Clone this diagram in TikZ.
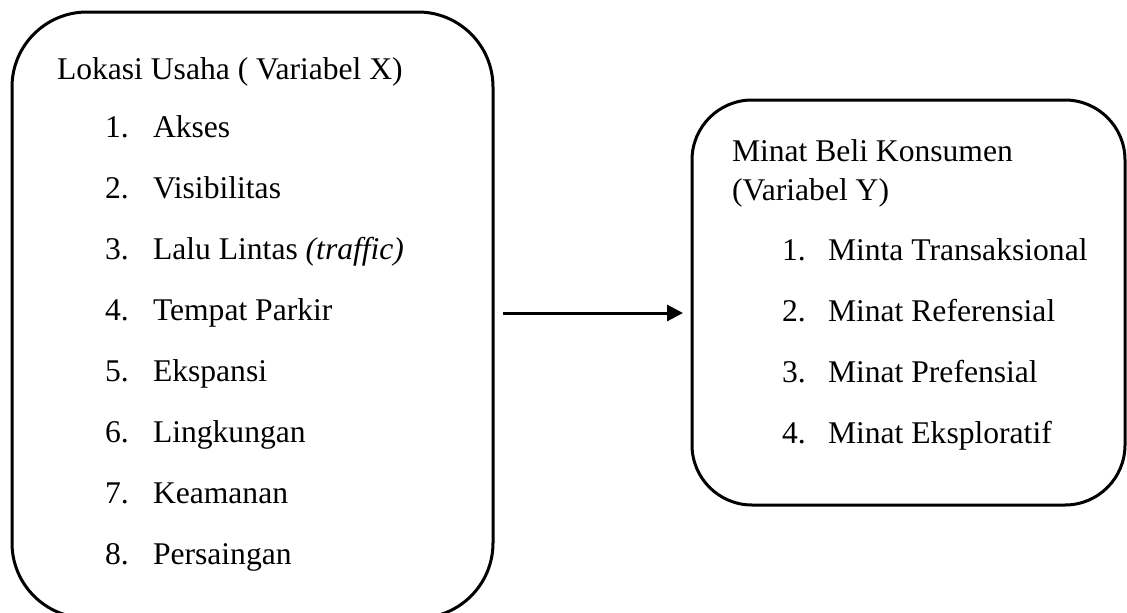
\documentclass[tikz,border=0pt]{standalone}
\usepackage{fontspec}
\setmainfont{Liberation Serif}
\usetikzlibrary{arrows.meta}
\begin{document}
\begin{tikzpicture}[x=1pt,y=-1pt,
  box/.style={draw=black,line width=3pt,outer sep=0pt,inner sep=0pt},
  txt/.style={anchor=base west,inner sep=0pt,outer sep=0pt,font=\fontsize{31.6}{40}\selectfont},
  arrowline/.style={line width=3pt,-{Triangle[length=16pt,width=16pt]}}]
\useasboundingbox (0,0) rectangle (1127,613);
\clip (0,0) rectangle (1127,613);
\node[box,rounded corners=75pt,minimum width=481pt,minimum height=606pt] (boxX) at (252.5,315) {};
\node[box,rounded corners=60pt,minimum width=433pt,minimum height=405pt] (boxY) at (908.5,302.5) {};
% left box text
\node[txt] (tX) at (57,79) {Lokasi Usaha ( Variabel X)};
\foreach \i/\t [count=\k from 0] in {1/Akses,2/Visibilitas,3/{Lalu Lintas \textit{(traffic)}},4/Tempat Parkir,5/Ekspansi,6/Lingkungan,7/Keamanan,8/Persaingan}{
  \node[txt] (nx\i) at (105,137.5+61*\k) {\i.};
  \node[txt] (ix\i) at (153,137.5+61*\k) {\t};
}
% right box text
\node[txt] (tY1) at (732,161) {Minat Beli Konsumen};
\node[txt] (tY2) at (732,200) {(Variabel Y)};
\foreach \i/\t [count=\k from 0] in {1/Minta Transaksional,2/Minat Referensial,3/Minat Prefensial,4/Minat Eksploratif}{
  \node[txt] (ny\i) at (782,260+61*\k) {\i.};
  \node[txt] (iy\i) at (828,260+61*\k) {\t};
}
\coordinate (a) at ([xshift=10pt,yshift=2pt]boxX.east);
\draw[arrowline,shorten >=9pt] (a) -- (a -| boxY.west);
\end{tikzpicture}
\end{document}
